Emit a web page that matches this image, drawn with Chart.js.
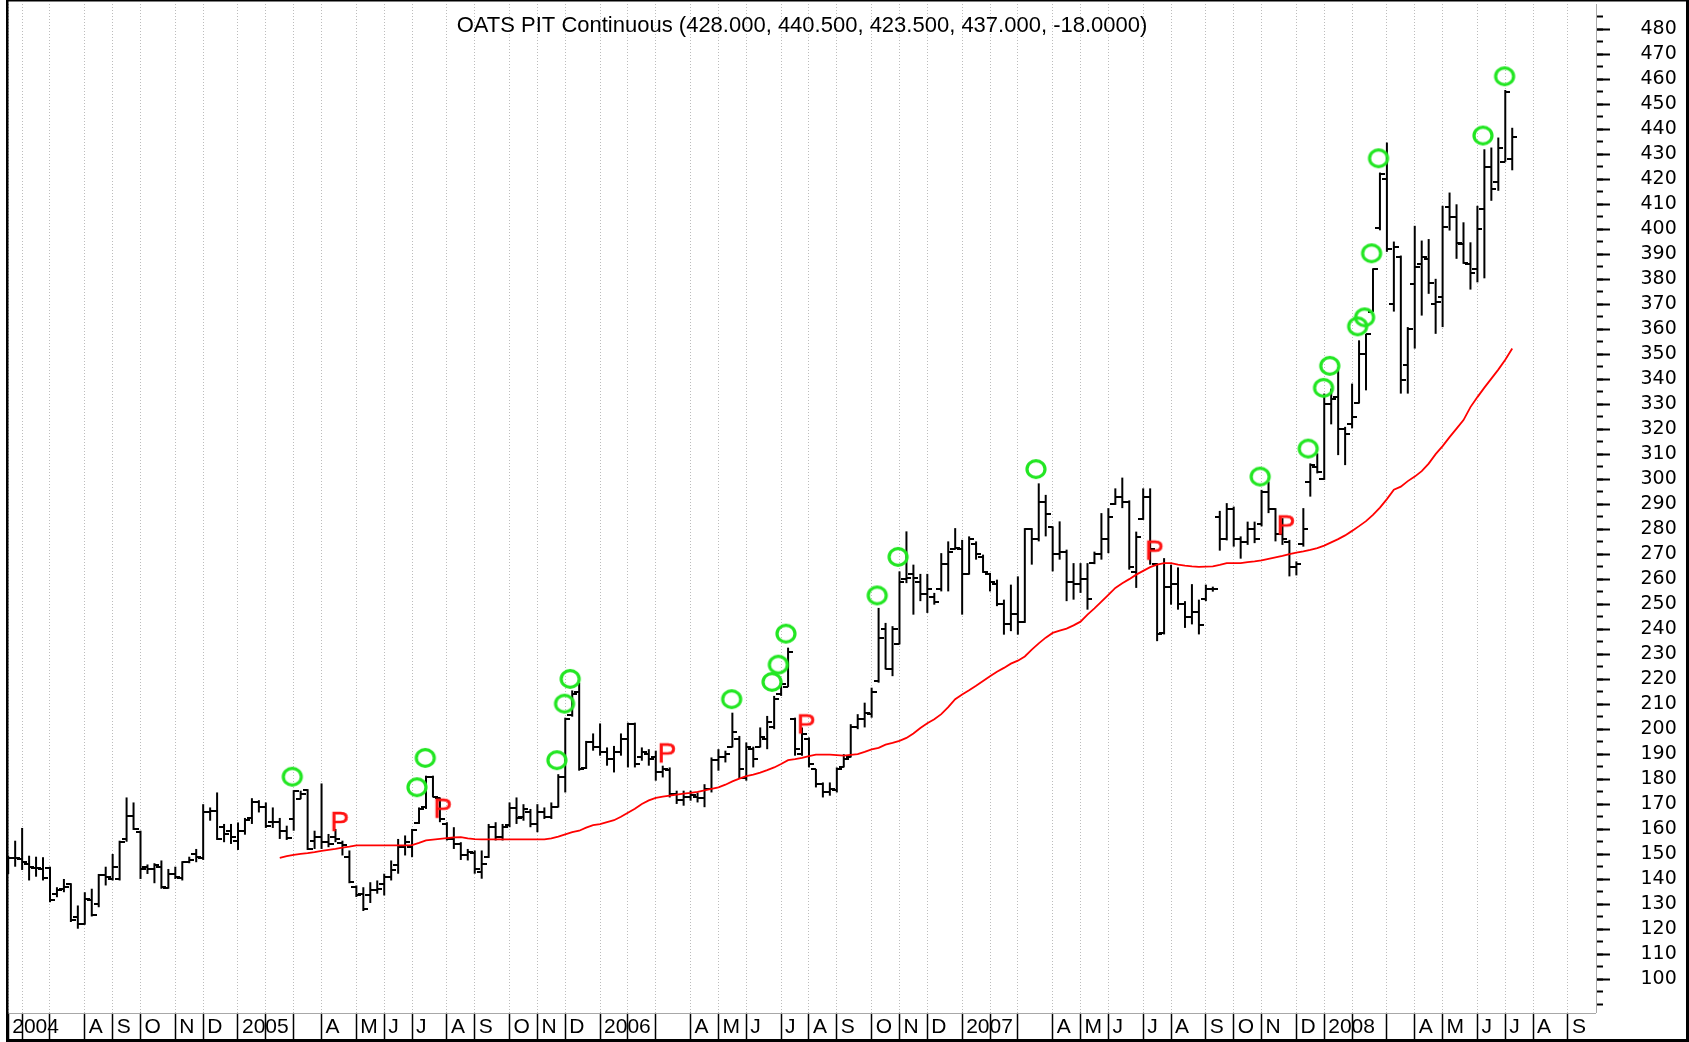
<!DOCTYPE html>
<html><head><meta charset="utf-8">
<script src="https://cdn.jsdelivr.net/npm/chart.js@4.4.1/dist/chart.umd.min.js"></script>
<style>html,body{margin:0;padding:0;background:#fff;}canvas{display:block;}</style>
</head><body>
<canvas id="c" width="1689" height="1042"></canvas>
<script>
// ---------------- DATA ----------------
const titleText = 'OATS PIT Continuous (428.000, 440.500, 423.500, 437.000, -18.0000)';
const firstWeek = '2004-05-21';          // week ending date of first bar (Fridays)
const axisWeeks = 229;                    // weeks shown on the time axis
const monthLetters = ['J','F','M','A','M','J','J','A','S','O','N','D'];

const opens = [
147,148.5,148,146,144.5,144,144.5,134,136,138,
125,122,131.8,130,141.5,140.2,140,156,165.4,159,
144.8,144,145,136.5,142,140.5,147,150,148.5,166.7,
167.4,160.7,159.4,155.4,159.4,164.5,170.7,168.7,163,162.7,
159.4,164,172,175.5,155.4,157,155,157,154.4,148.8,
136.8,134,133.5,135.5,138.2,140.8,145.5,152.8,152.8,162.5,
168.7,181,172.5,162,156,154,149.5,150.5,143,149,
161,157,161.5,168.5,165,167,162,167,165,169,
181,205.5,215,184.5,195,193,191,188,191,196,
202,189,190,189,183,183.5,174,171.5,173,173,
172.5,176,187.5,189,193,196,180.5,192,193,196,
201,214,217,204,190,196,184,178,175,175.5,
185,189,201,204,206,219.2,240,224,234,260,
262,259,254,253,256,266,272,272,262,274,
269,262,258,250,242,246,243,280,276,291,
281,270,271,259,258,260,266.5,270,276,290,
293,291,263,284,293,266,238.5,257,258,250,
245,247,252,256,285,276,288,276,275,280,
282,295,288,278,275,265,274,299,305,300,
330,333,320,322,330.5,350,367,400.5,420,370,
389,345.5,378,386,388,370,373,409,405,394,
386,384,408,425,419,427,428];

const highs = [
149.4,155.4,160.5,149.4,149,148.8,145,136.8,140.1,138.4,
129.5,134.8,136.2,142.1,145,150.1,155.4,172.7,170.7,159.4,
145.9,146.4,147.5,144.1,145,147.2,149,152.1,170,168.7,
174.7,162.1,162.1,162.7,164.5,172.4,171.6,170.7,168.7,164.5,
161.4,175.6,175.4,176,159.4,178.3,158.1,160.1,155.4,151.5,
137.5,136.8,138.8,139.5,142.2,147.5,156.1,157.5,160.1,168.7,
181.4,181.4,172.7,162.8,160.8,154.8,152.1,151.5,151.5,162.1,
162.8,162.1,170.7,172.7,170,168.1,170,168.7,170.7,182,
204.6,215.5,218.6,195.3,198.3,202.3,192.7,193.3,198.3,202.6,
202.6,192.7,192,191.4,185.4,184.7,175.4,175.4,175.4,174.7,
178,188.7,192,191.4,206.6,197.3,194.7,193,200.7,205.3,
213.3,219.3,232.6,204.6,200.7,196.7,184.1,178.7,178.7,184.7,
190,202,206,210.6,216.6,248.5,242.5,241.2,263.1,279.1,
265.8,262.1,262.1,254.5,270.4,275.1,280.4,275.7,277.1,275.1,
269.8,262.5,259.8,251.8,257.8,261.1,280.4,280.4,298.3,293.7,
281.1,283.1,271.8,266.4,266.4,266.4,271,286.4,288.4,296.3,
300.6,291.5,279,296.3,296.3,266.4,268.4,265.8,264.7,251.2,
258,251.8,257.8,257,287.3,290.4,289,277.1,283,283,
295.7,299,288.4,284.4,275.7,267.1,288.4,306.3,310.3,334.2,
336.2,343.5,320.9,338.2,355.5,358.1,384.3,422.6,434.6,395,
389.4,360.8,401.3,395.4,396,380.1,409.3,414.6,409.9,402.7,
394.7,409.3,431.9,432.6,436.6,455.6,440.5];

const lows = [
142.1,145,143.7,139.5,141,139.5,130.8,132.8,134.8,122.9,
120.2,121.8,125.1,128.8,137.5,139.5,139.5,155,159.7,140.1,
142.1,138.4,136.2,136.2,140.1,139.5,146.4,146.8,147.7,163.4,
155.7,154.8,154.1,151.7,157.8,162.1,166.7,160.5,160.5,156.1,
155.7,159.4,172,151.7,152.1,152.1,152.8,154.8,149.5,138.4,
132.9,127.3,130.5,134.2,133.5,139.5,142.2,149.5,148.8,162.1,
168.1,172.7,162.8,155.5,152.1,147.7,147.5,142.2,140.2,148.5,
155.5,155.5,160.8,162.1,163.4,160.8,158.8,164.1,164.1,168.7,
174.7,205,183.4,184.1,191.4,189.4,185.4,182.7,189.4,184.7,
184.7,187.4,185.4,179.4,180.7,172.7,170.1,169.4,171.4,170.7,
168.8,174.7,183.4,186.7,192.7,180.1,179.4,184.7,192.7,192,
200,213.3,216.9,189.4,189.4,184.7,176.7,172.7,173.4,174.7,
184.7,188.7,200,200.7,204.6,218.6,223.9,221.2,233.9,258.4,
245.8,251.2,246.5,249.8,255.1,255.1,271.8,245.8,261.8,267.8,
262.5,255.1,249.2,237.8,239.2,237.8,242.5,265.8,275.1,277.1,
263.1,267.8,251.2,251.8,254.5,247.8,266,267.8,270.4,289.7,
288.4,263.8,256.5,283.7,265.8,235.2,237.9,249.8,247.8,240.5,
241.9,237.9,251.2,255,271.4,275.5,273,268.2,273.7,274.4,
281.1,286.4,275.1,273.7,261.1,261.5,273,293,302.3,299.7,
321.9,309.6,305.6,320.3,330.2,335.5,366.8,399.5,390.9,367,
334.2,334.2,352.2,365.4,374.1,358.1,360.8,399.4,388.1,386.1,
375.8,378.7,380.3,411.3,415.3,426.9,423.5];

const closes = [
148.5,148.5,147,144.8,144.5,140.5,131.5,135.5,137,123.5,
122,132.2,125.5,141.5,141,145,155,165.4,160.1,144.1,
144.1,145.5,136.8,142,141,146.8,147.5,148.8,166.7,167.4,
156,158.1,156.8,159.4,163.7,170.7,168.7,161.4,162.7,159.4,
156.5,175.2,174,152.1,157,155,154,156,153.5,138.8,
133.5,128.2,135.5,136.2,140.8,143.5,152.8,154.8,159.8,168,
180.7,173,164,156,154,149.5,151,144,146,161,
157,161,168.5,164.5,168,162,167,165,169,181,
204,214,184,195,193,191,188,191,196,202,
186,191,188,183,184,174,171.5,173,173.5,172.5,
176,187.5,189,190,199,184,193,188,197,203,
212,218,231,192,198,186,178,175,176,184,
188,201,204,206.5,215,236.5,224,240,259,260.5,
260.5,254,256,251,266,271,272.5,262,276,270,
263,259,250,242,246,243,280,276,291,286,
270,271,259,258,260,252,270,276,285,293,
291,265,277,293,272,238,257,258,250,245,
247,241.5,256,256,276,288,276,275,280,276,
295,288,278,276,265,266,280,305.5,303,330,
332,320,318,325,350,358,384,422,392,393,
339.5,360,385,389,378.5,371,401,405,394.5,386.5,
382.5,400,425,416,432.5,455,437];

// moving average (red line), first value belongs to bar index maStart
const maStart = 39;
const maValues = [
148.5,149.2,149.7,150.1,150.4,150.8,151.3,151.7,152.1,152.6,
153.0,153.5,153.5,153.5,153.5,153.5,153.5,153.5,153.5,153.6,
154.5,155.5,155.8,156.1,156.4,156.7,156.8,156.3,156.0,155.9,
155.9,155.9,155.9,155.9,155.9,155.9,155.9,155.9,155.9,156.3,
157.0,157.9,158.8,159.4,160.6,161.6,162.0,162.8,163.6,165.0,
166.6,168.2,170.1,171.5,172.5,173.0,173.4,173.8,174.2,174.5,
174.9,175.5,176.1,176.7,177.8,179.1,180.2,181.2,181.8,182.6,
183.6,184.7,186.1,187.6,188.0,188.5,189.2,189.8,189.8,189.8,
189.6,189.4,189.7,190.0,190.9,191.9,192.5,193.8,194.5,195.3,
196.5,198.3,200.5,202.4,204.0,206.0,208.8,212.0,213.9,215.6,
217.4,219.3,221.2,223.0,224.5,226.2,227.4,229.1,231.8,234.3,
236.6,238.5,239.4,240.2,241.5,243.0,245.8,248.3,251.0,253.7,
256.5,258.4,260.0,261.8,263.3,264.8,265.8,266.4,266.4,265.8,
265.4,265.1,264.9,265.0,265.1,265.7,266.4,266.4,266.4,266.8,
267.1,267.5,268.1,268.7,269.3,270.0,270.6,271.1,271.7,272.4,
273.4,274.7,276.0,277.5,279.3,281.2,283.2,285.7,288.6,292.0,
295.8,297.0,299.2,301.0,303.2,306.2,310.0,313.2,316.8,320.2,
323.6,328.8,332.8,336.6,340.2,343.8,347.7,352.2];

// green "O" signals and red "P" signals (bar position, price level)
const oMarkX = [40.8,58.7,59.9,78.8,79.9,80.7,103.9,109.7,110.6,111.7,124.8,127.8,147.6,179.8,186.7,188.9,189.8,193.8,194.8,195.8,196.8,211.8,214.9];
const oMarkY = [181,176.8,188.5,187.6,210.2,220.1,212,218.9,225.8,238.2,253.5,268.9,304,301,312.2,336.5,345.3,361.1,364.7,390.3,428.3,437.4,461.1];
const pMarkX = [47.6,62.4,94.6,114.6,164.6,183.5];
const pMarkY = [163.3,168.6,190.7,202.3,271.8,281.9];

// price axis tick labels
const yLabelValues = [100,110,120,130,140,150,160,170,180,190,200,210,220,230,240,250,260,270,280,290,300,310,320,330,340,350,360,370,380,390,400,410,420,430,440,450,460,470,480];
const yMinorValues = [90,95,100,105,110,115,120,125,130,135,140,145,150,155,160,165,170,175,180,185,190,195,200,205,210,215,220,225,230,235,240,245,250,255,260,265,270,275,280,285,290,295,300,305,310,315,320,325,330,335,340,345,350,355,360,365,370,375,380,385,390,395,400,405,410,415,420,425,430,435,440,445,450,455,460,465,470,475,480,485];
const yMin = 86.5, yMax = 490;
const xMin = -0.03, xMax = 228.03;

// ---------------- BUILD ----------------
const FONT = '"Liberation Sans", Arial, Helvetica, sans-serif';
const YFONT = '"DejaVu Sans", Verdana, sans-serif';
const t0 = Date.parse(firstWeek + 'T00:00:00Z');
const weekDate = i => new Date(t0 + i * 7 * 86400000);

const monthTicks = [];
const monthTickLabels = {};
let lastYearTick = -999;
for (let i = 0; i < axisWeeks; i++) {
  const d = weekDate(i);
  const newMonth = i === 0 || d.getUTCMonth() !== weekDate(i - 1).getUTCMonth();
  if (!newMonth || i > xMax - 0.5) continue;
  monthTicks.push(i);
  const isYear = i === 0 || d.getUTCMonth() === 0;
  let lab = isYear ? String(d.getUTCFullYear()) : monthLetters[d.getUTCMonth()];
  if (!isYear && i - lastYearTick < 10) lab = '';
  if (isYear) lastYearTick = i;
  monthTickLabels[i] = lab;
}

function tickImage(side) {
  const c = document.createElement('canvas');
  c.width = 10; c.height = 2;
  const g = c.getContext('2d');
  g.fillStyle = '#000';
  g.fillRect(side === 'left' ? 0 : 5, 0, 5, 2);
  return c;
}
function oImage() {
  const c = document.createElement('canvas');
  c.width = 26; c.height = 24;
  const g = c.getContext('2d');
  g.strokeStyle = '#22e622'; g.lineWidth = 3.2;
  g.beginPath(); g.ellipse(13, 12, 9.0, 8.4, 0, 0, Math.PI * 2); g.stroke();
  return c;
}
function pImage() {
  const c = document.createElement('canvas');
  c.width = 30; c.height = 30;
  const g = c.getContext('2d');
  g.fillStyle = '#ff1010';
  g.strokeStyle = '#ff1010'; g.lineWidth = 0.6;
  g.font = '28px ' + FONT;
  g.textAlign = 'center'; g.textBaseline = 'alphabetic';
  const by = 15 + 0.716 * 28 / 2;
  g.fillText('P', 15, by);
  g.strokeText('P', 15, by);
  return c;
}

const hlData = highs.map((h, i) => ({x: i, y: [lows[i], h]}));
const openData = opens.map((v, i) => ({x: i, y: v}));
const closeData = closes.map((v, i) => ({x: i, y: v}));
const maData = maValues.map((v, k) => ({x: maStart + k, y: v}));
const oData = oMarkX.map((x, k) => ({x: x, y: oMarkY[k]}));
const pData = pMarkX.map((x, k) => ({x: x, y: pMarkY[k]}));

const framePlugin = {
  id: 'frame',
  beforeDraw(chart) {
    const c = chart.ctx;
    c.save(); c.fillStyle = '#fff'; c.fillRect(0, 0, chart.width, chart.height); c.restore();
  },
  afterDraw(chart) {
    const c = chart.ctx, a = chart.chartArea, W = chart.width, H = chart.height;
    c.save();
    c.strokeStyle = '#a8a8a8'; c.lineWidth = 1;
    c.beginPath();
    c.moveTo(a.left, Math.round(a.bottom) + 0.5); c.lineTo(a.right, Math.round(a.bottom) + 0.5);
    c.moveTo(Math.round(a.right) + 0.5, a.top); c.lineTo(Math.round(a.right) + 0.5, a.bottom);
    c.stroke();
    c.fillStyle = '#000';
    c.fillRect(6, 0, 2.5, H);
    c.fillRect(6, 0, W - 6, 1.5);
    c.fillRect(W - 3, 0, 3, H);
    c.fillRect(6, H - 3, W - 6, 3);
    c.font = '22px ' + FONT;
    c.textAlign = 'center'; c.textBaseline = 'alphabetic';
    c.fillText(titleText, (a.left + a.right) / 2, 31.5);
    c.restore();
  }
};

new Chart(document.getElementById('c'), {
  type: 'scatter',
  data: {
    datasets: [
      {type: 'scatter', label: 'O', data: oData, pointStyle: oImage(), pointRadius: 4, pointBorderWidth: 0, showLine: false, order: 0, clip: false},
      {type: 'scatter', label: 'P', data: pData, pointStyle: pImage(), pointRadius: 4, pointBorderWidth: 0, showLine: false, order: 0, clip: false},
      {type: 'line', label: 'MA', data: maData, borderColor: '#ff0000', borderWidth: 1.8, pointRadius: 0, tension: 0, fill: false, order: 1},
      {type: 'scatter', label: 'Open', data: openData, pointStyle: tickImage('left'), pointRadius: 3, pointBorderWidth: 0, showLine: false, order: 2},
      {type: 'scatter', label: 'Close', data: closeData, pointStyle: tickImage('right'), pointRadius: 3, pointBorderWidth: 0, showLine: false, order: 2},
      {type: 'bar', label: 'High-Low', data: hlData, backgroundColor: '#000', borderWidth: 0, barThickness: 2, inflateAmount: 0, order: 3}
    ]
  },
  options: {
    responsive: false, maintainAspectRatio: false, animation: false, devicePixelRatio: 1,
    events: [],
    layout: {padding: {left: 8, top: 1, right: 3, bottom: 3}},
    plugins: {legend: {display: false}, tooltip: {enabled: false}, title: {display: false}},
    scales: {
      x: {
        type: 'linear', position: 'bottom', min: xMin, max: xMax, offset: false,
        afterBuildTicks: s => { s.ticks = monthTicks.map(v => ({value: v})); },
        afterFit: s => { s.height = 26; s.paddingLeft = 0; s.paddingRight = 0; },
        grid: {display: true, offset: false, color: '#bcbcbc', lineWidth: 1, drawOnChartArea: true, drawTicks: true,
               tickLength: 26, tickColor: '#000', tickWidth: 1.5, tickBorderDash: []},
        border: {display: false, dash: [1, 2]},
        ticks: {autoSkip: false, maxRotation: 0, minRotation: 0, align: 'start', labelOffset: 4, padding: -24,
                color: '#000', font: {family: FONT, size: 21},
                callback: v => (monthTickLabels[v] !== undefined ? monthTickLabels[v] : '')}
      },
      y5: {
        type: 'linear', position: 'right', weight: 0, min: yMin, max: yMax, beginAtZero: false,
        afterBuildTicks: s => { s.ticks = yMinorValues.map(v => ({value: v})); },
        afterFit: s => { s.width = 0; s.paddingTop = 0; s.paddingBottom = 0; },
        grid: {drawOnChartArea: false, drawTicks: true, tickLength: 7, tickColor: '#000', tickWidth: 2},
        border: {display: false},
        ticks: {display: false, autoSkip: false}
      },
      y: {
        type: 'linear', position: 'right', weight: 1, min: yMin, max: yMax, beginAtZero: false,
        afterBuildTicks: s => { s.ticks = yLabelValues.map(v => ({value: v})); },
        afterFit: s => { s.width = 90; s.paddingTop = 0; s.paddingBottom = 0; },
        grid: {drawOnChartArea: false, drawTicks: true, tickLength: 14, tickColor: '#000', tickWidth: 2},
        border: {display: false},
        ticks: {autoSkip: false, crossAlign: 'near', padding: 30.5, color: '#000', font: {family: YFONT, size: 19},
                callback: v => String(v)}
      }
    }
  },
  plugins: [framePlugin]
});
</script>
</body></html>
